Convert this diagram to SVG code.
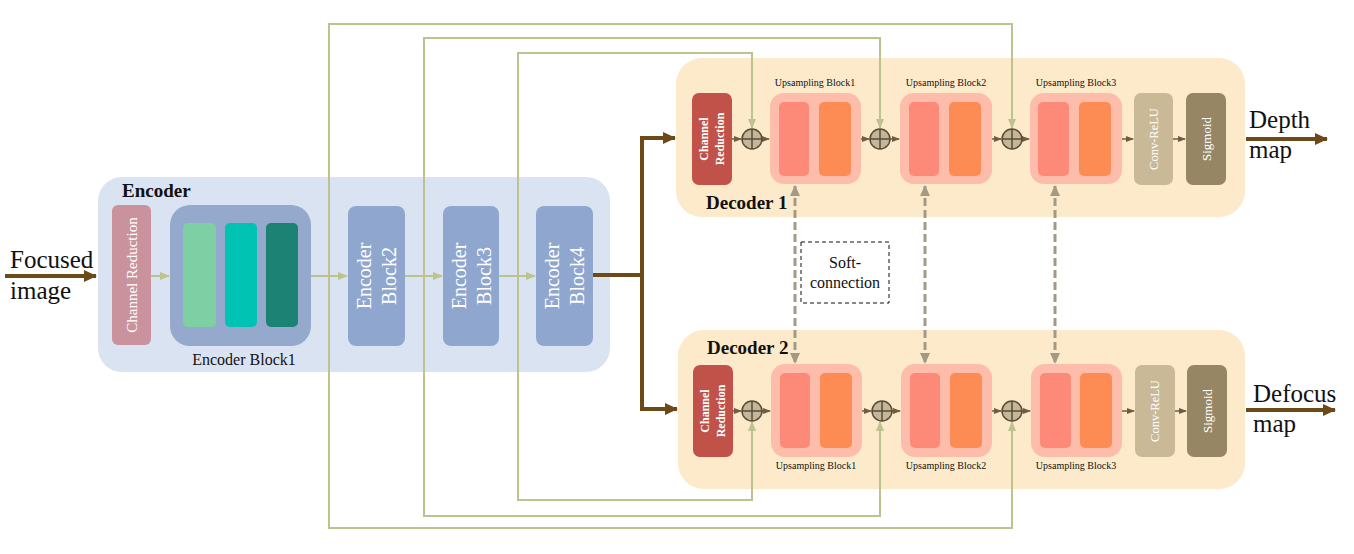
<svg xmlns="http://www.w3.org/2000/svg" width="1354" height="554" viewBox="0 0 1354 554">
<style>
text{font-family:"Liberation Serif","Times New Roman",serif;}
.panelE{fill:#dae3f2;}
.panelD{fill:#fdeaca;}
.wt{fill:#ffffff;}
.skip{fill:none;stroke:#bcc38e;stroke-width:2;}
.garr{fill:none;stroke:#bcc38e;stroke-width:2;}
.brown{fill:none;stroke:#6b4a17;stroke-width:4;}
.sm{fill:none;stroke:#6e5d42;stroke-width:1.5;}
.dash{fill:none;stroke:#a39a85;stroke-width:3;stroke-dasharray:8 4;}
.plus{fill:#c2b79b;stroke:#5b4b32;stroke-width:1.5;}
.upo{fill:#fdbdaa;}
.b1{fill:#fd8979;}
.b2{fill:#fd8c54;}
.cr{fill:#c0524a;}
.conv{fill:#c9b997;}
.sig{fill:#968664;}
.enb{fill:#8fa7cf;}
.lbl{font-size:10px;fill:#111;}
</style>
<defs>
<marker id="mb" markerUnits="userSpaceOnUse" markerWidth="14" markerHeight="14" refX="12" refY="7" orient="auto"><path d="M0,1 L13,7 L0,13 Z" fill="#6b4a17"/></marker>
<marker id="mg" markerUnits="userSpaceOnUse" markerWidth="10" markerHeight="10" refX="9" refY="5" orient="auto"><path d="M0,1 L10,5 L0,9 Z" fill="#bcc38e"/></marker>
<marker id="ms" markerUnits="userSpaceOnUse" markerWidth="8" markerHeight="8" refX="7" refY="4" orient="auto"><path d="M0,1 L8,4 L0,7 Z" fill="#6e5d42"/></marker>
<marker id="md" markerUnits="userSpaceOnUse" markerWidth="12" markerHeight="12" refX="10" refY="6" orient="auto-start-reverse"><path d="M0,1 L11,6 L0,11 Z" fill="#a39a85"/></marker>
<g id="oplus"><circle cx="0" cy="0" r="10" class="plus"/><path d="M-10,0 H10 M0,-10 V10" stroke="#5b4b32" stroke-width="1.5"/></g>
</defs>

<!-- Panels -->
<g id="encoder">
<rect x="98" y="177" width="512" height="195" rx="24" class="panelE"/>
<text x="122" y="197" font-size="19" font-weight="bold" fill="#111">Encoder</text>
</g>
<g id="decoder1">
<rect x="676" y="58" width="569" height="159" rx="26" class="panelD"/>
<text x="706" y="209" font-size="19" font-weight="bold" fill="#111">Decoder 1</text>
</g>
<g id="decoder2">
<rect x="678" y="330" width="567" height="159" rx="26" class="panelD"/>
<text x="707" y="354" font-size="19" font-weight="bold" fill="#111">Decoder 2</text>
</g>

<!-- Connectors -->
<g id="connectors">
<path class="skip" d="M329,276 V24 H1012 V128" marker-end="url(#mg)"/>
<path class="skip" d="M329,276 V528 H1012 V422" marker-end="url(#mg)"/>
<path class="skip" d="M424,276 V38 H880 V128" marker-end="url(#mg)"/>
<path class="skip" d="M424,276 V516 H880 V422" marker-end="url(#mg)"/>
<path class="skip" d="M518,276 V53 H752 V128" marker-end="url(#mg)"/>
<path class="skip" d="M518,276 V500 H752 V422" marker-end="url(#mg)"/>

<path class="garr" d="M151,276 H169" marker-end="url(#mg)"/>
<path class="garr" d="M311,276 H347" marker-end="url(#mg)"/>
<path class="garr" d="M405,276 H442" marker-end="url(#mg)"/>
<path class="garr" d="M499,276 H535" marker-end="url(#mg)"/>

<path class="brown" d="M5,276 H96" marker-end="url(#mb)"/>
<path class="brown" d="M593,275 H642 M642,136 V411"/>
<path class="brown" d="M640,138 H675" marker-end="url(#mb)"/>
<path class="brown" d="M640,409 H677" marker-end="url(#mb)"/>
<path class="brown" d="M1246,139 H1327" marker-end="url(#mb)"/>
<path class="brown" d="M1246,410 H1335" marker-end="url(#mb)"/>

<path class="sm" d="M732,139 H741" marker-end="url(#ms)"/>
<path class="sm" d="M762,139 H769" marker-end="url(#ms)"/>
<path class="sm" d="M861,139 H869" marker-end="url(#ms)"/>
<path class="sm" d="M890,139 H899" marker-end="url(#ms)"/>
<path class="sm" d="M992,139 H1001" marker-end="url(#ms)"/>
<path class="sm" d="M1022,139 H1029" marker-end="url(#ms)"/>
<path class="sm" d="M1122,139 H1133" marker-end="url(#ms)"/>
<path class="sm" d="M1173,139 H1185" marker-end="url(#ms)"/>

<path class="sm" d="M733,411 H741" marker-end="url(#ms)"/>
<path class="sm" d="M762,411 H770" marker-end="url(#ms)"/>
<path class="sm" d="M862,411 H871" marker-end="url(#ms)"/>
<path class="sm" d="M892,411 H900" marker-end="url(#ms)"/>
<path class="sm" d="M992,411 H1001" marker-end="url(#ms)"/>
<path class="sm" d="M1022,411 H1030" marker-end="url(#ms)"/>
<path class="sm" d="M1122,411 H1134" marker-end="url(#ms)"/>
<path class="sm" d="M1175,411 H1186" marker-end="url(#ms)"/>

<path class="dash" d="M795,186 V363" marker-start="url(#md)" marker-end="url(#md)"/>
<path class="dash" d="M925,186 V363" marker-start="url(#md)" marker-end="url(#md)"/>
<path class="dash" d="M1055,186 V363" marker-start="url(#md)" marker-end="url(#md)"/>
</g>

<!-- Encoder nodes -->
<g id="enc-cr">
<rect x="112" y="205" width="39" height="140" rx="6" fill="#c9929c"/>
<text class="wt" font-size="15" text-anchor="middle" transform="translate(131.5,275) rotate(-90)" dy="0.35em">Channel Reduction</text>
</g>
<g id="enc-block1">
<rect x="170" y="205" width="141" height="141" rx="20" fill="#94a9cc"/>
<rect x="183" y="223" width="33" height="104" rx="5" fill="#7ecfa3"/>
<rect x="225" y="223" width="32" height="104" rx="5" fill="#00c3b3"/>
<rect x="266" y="223" width="32" height="104" rx="5" fill="#1c8273"/>
<text x="244" y="365" font-size="16" text-anchor="middle" fill="#111">Encoder Block1</text>
</g>
<g id="enc-block2">
<rect x="348" y="206" width="57" height="140" rx="8" class="enb"/>
<text class="wt" font-size="20" text-anchor="middle" transform="translate(364,276) rotate(-90)" dy="0.35em">Encoder</text>
<text class="wt" font-size="20" text-anchor="middle" transform="translate(389,276) rotate(-90)" dy="0.35em">Block2</text>
</g>
<g id="enc-block3">
<rect x="443" y="206" width="56" height="140" rx="8" class="enb"/>
<text class="wt" font-size="20" text-anchor="middle" transform="translate(459,276) rotate(-90)" dy="0.35em">Encoder</text>
<text class="wt" font-size="20" text-anchor="middle" transform="translate(484,276) rotate(-90)" dy="0.35em">Block3</text>
</g>
<g id="enc-block4">
<rect x="536" y="206" width="57" height="140" rx="8" class="enb"/>
<text class="wt" font-size="20" text-anchor="middle" transform="translate(552,276) rotate(-90)" dy="0.35em">Encoder</text>
<text class="wt" font-size="20" text-anchor="middle" transform="translate(577,276) rotate(-90)" dy="0.35em">Block4</text>
</g>

<g id="input-label">
<text x="10" y="268" font-size="25" fill="#111">Focused</text>
<text x="10" y="299" font-size="25" fill="#111">image</text>
</g>

<!-- Decoder 1 nodes -->
<g id="d1-cr">
<rect x="692" y="93" width="40" height="92" rx="7" class="cr"/>
<text class="wt" font-size="12" font-weight="bold" text-anchor="middle" transform="translate(704,139) rotate(-90)" dy="0.35em">Channel</text>
<text class="wt" font-size="12" font-weight="bold" text-anchor="middle" transform="translate(720,139) rotate(-90)" dy="0.35em">Reduction</text>
</g>
<g id="d1-plus1"><use href="#oplus" x="752" y="139"/></g>
<g id="d1-up1">
<rect x="770" y="93" width="91" height="91" rx="14" class="upo"/>
<rect x="779" y="102" width="30" height="74" rx="5" class="b1"/>
<rect x="819" y="102" width="32" height="74" rx="5" class="b2"/>
<text x="815" y="86" class="lbl" text-anchor="middle">Upsampling Block1</text>
</g>
<g id="d1-plus2"><use href="#oplus" x="880" y="139"/></g>
<g id="d1-up2">
<rect x="900" y="93" width="92" height="91" rx="14" class="upo"/>
<rect x="909" y="102" width="30" height="74" rx="5" class="b1"/>
<rect x="949" y="102" width="32" height="74" rx="5" class="b2"/>
<text x="946" y="86" class="lbl" text-anchor="middle">Upsampling Block2</text>
</g>
<g id="d1-plus3"><use href="#oplus" x="1012" y="139"/></g>
<g id="d1-up3">
<rect x="1030" y="93" width="92" height="91" rx="14" class="upo"/>
<rect x="1038" y="102" width="31" height="74" rx="5" class="b1"/>
<rect x="1079" y="102" width="32" height="74" rx="5" class="b2"/>
<text x="1076" y="86" class="lbl" text-anchor="middle">Upsampling Block3</text>
</g>
<g id="d1-conv">
<rect x="1134" y="93" width="39" height="92" rx="7" class="conv"/>
<text class="wt" font-size="12.5" text-anchor="middle" transform="translate(1153.5,139) rotate(-90)" dy="0.35em">Conv-ReLU</text>
</g>
<g id="d1-sig">
<rect x="1186" y="93" width="40" height="92" rx="7" class="sig"/>
<text class="wt" font-size="13" text-anchor="middle" transform="translate(1206,139) rotate(-90)" dy="0.35em">Sigmoid</text>
</g>
<g id="out1-label">
<text x="1249" y="128" font-size="25" fill="#111">Depth</text>
<text x="1249" y="158" font-size="25" fill="#111">map</text>
</g>

<!-- Decoder 2 nodes -->
<g id="d2-cr">
<rect x="693" y="365" width="40" height="92" rx="7" class="cr"/>
<text class="wt" font-size="12" font-weight="bold" text-anchor="middle" transform="translate(705,411) rotate(-90)" dy="0.35em">Channel</text>
<text class="wt" font-size="12" font-weight="bold" text-anchor="middle" transform="translate(721,411) rotate(-90)" dy="0.35em">Reduction</text>
</g>
<g id="d2-plus1"><use href="#oplus" x="752" y="411"/></g>
<g id="d2-up1">
<rect x="771" y="364" width="91" height="93" rx="14" class="upo"/>
<rect x="780" y="373" width="30" height="75" rx="5" class="b1"/>
<rect x="820" y="373" width="32" height="75" rx="5" class="b2"/>
<text x="816" y="469" class="lbl" text-anchor="middle">Upsampling Block1</text>
</g>
<g id="d2-plus2"><use href="#oplus" x="882" y="411"/></g>
<g id="d2-up2">
<rect x="901" y="364" width="91" height="93" rx="14" class="upo"/>
<rect x="910" y="373" width="30" height="75" rx="5" class="b1"/>
<rect x="950" y="373" width="32" height="75" rx="5" class="b2"/>
<text x="946" y="469" class="lbl" text-anchor="middle">Upsampling Block2</text>
</g>
<g id="d2-plus3"><use href="#oplus" x="1012" y="411"/></g>
<g id="d2-up3">
<rect x="1031" y="364" width="91" height="93" rx="14" class="upo"/>
<rect x="1040" y="373" width="31" height="75" rx="5" class="b1"/>
<rect x="1080" y="373" width="32" height="75" rx="5" class="b2"/>
<text x="1076" y="469" class="lbl" text-anchor="middle">Upsampling Block3</text>
</g>
<g id="d2-conv">
<rect x="1135" y="365" width="40" height="92" rx="7" class="conv"/>
<text class="wt" font-size="12.5" text-anchor="middle" transform="translate(1155,411) rotate(-90)" dy="0.35em">Conv-ReLU</text>
</g>
<g id="d2-sig">
<rect x="1187" y="365" width="40" height="92" rx="7" class="sig"/>
<text class="wt" font-size="13" text-anchor="middle" transform="translate(1207,411) rotate(-90)" dy="0.35em">Sigmoid</text>
</g>
<g id="out2-label">
<text x="1253" y="402" font-size="25" fill="#111">Defocus</text>
<text x="1253" y="432" font-size="25" fill="#111">map</text>
</g>

<g id="soft-connection">
<rect x="801" y="242" width="88" height="61" fill="#ffffff" stroke="#111" stroke-width="1" stroke-dasharray="4 3"/>
<text x="845" y="268" font-size="16" text-anchor="middle" fill="#111">Soft-</text>
<text x="845" y="288" font-size="16" text-anchor="middle" fill="#111">connection</text>
</g>
</svg>
